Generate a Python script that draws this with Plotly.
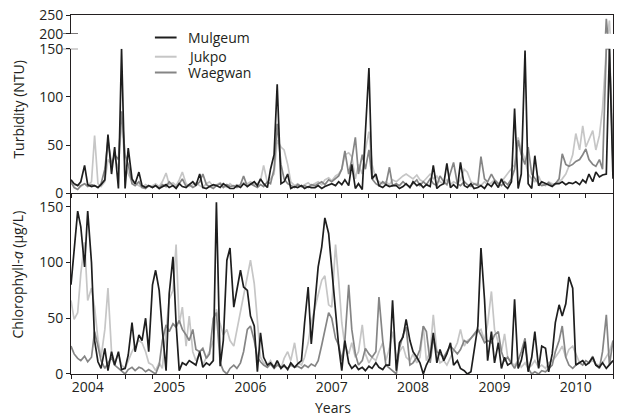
import numpy as np
import pandas as pd
import plotly.graph_objects as go

# ---------------- data (semi-monthly samples, Nov 2003 - Jul 2010) ----------------
dates = pd.date_range("2003-11-01", periods=161, freq="SMS").strftime("%Y-%m-%d").tolist()
years = ["2004", "2005", "2006", "2007", "2008", "2009", "2010"]
series_names = ["Mulgeum", "Jukpo", "Waegwan"]

turb_mulgeum = [
    14, 10, 8, 12, 29, 9, 7, 8, 6, 9, 14, 61, 20, 48, 5, 150, 5, 47, 15, 10, 22, 8, 6, 8,
    6, 8, 5, 7, 9, 6, 8, 5, 10, 7, 6, 9, 12, 8, 20, 6, 5, 7, 9, 8, 6, 10, 7, 5,
    5, 8, 6, 10, 7, 9, 12, 8, 15, 10, 6, 25, 40, 113, 10, 12, 20, 5, 7, 6, 8, 5, 7, 6,
    6, 8, 5, 7, 9, 10, 8, 12, 9, 14, 8, 30, 5, 10, 4, 58, 130, 15, 20, 8, 6, 9, 7, 8,
    8, 5, 7, 10, 6, 12, 8, 10, 6, 9, 7, 29, 5, 8, 10, 31, 6, 9, 5, 32, 8, 6, 10, 5,
    6, 8, 5, 10, 7, 12, 6, 15, 8, 5, 12, 88, 5, 20, 148, 10, 5, 39, 8, 12, 10, 9, 7, 10,
    10, 12, 9, 11, 10, 12, 9, 14, 11, 20, 12, 22, 17, 19, 20, 180, 15,
]
turb_jukpo = [
    10, 8, 9, 7, 10, 8, 12, 60, 10, 7, 12, 35, 30, 38, 25, 75, 30, 20, 12, 10, 8, 6, 9, 7,
    8, 10, 7, 12, 21, 9, 11, 8, 14, 22, 10, 7, 9, 11, 8, 6, 10, 12, 7, 9, 11, 8, 6, 10,
    7, 9, 8, 11, 10, 12, 9, 10, 13, 29, 11, 15, 20, 55, 48, 45, 30, 12, 8, 10, 7, 9, 11, 8,
    10, 12, 9, 14, 16, 13, 18, 20, 25, 40, 42, 38, 15, 30, 20, 45, 64, 30, 15, 12, 10, 12, 9, 14,
    12, 15, 18, 20, 17, 15, 19, 14, 12, 16, 20, 15, 18, 12, 10, 14, 9, 12, 10, 14, 25, 22, 12, 10,
    10, 8, 12, 9, 11, 14, 10, 12, 16, 20, 25, 30, 58, 45, 35, 20, 15, 12, 18, 10, 8, 12, 10, 9,
    12, 15, 20, 28, 40, 62, 45, 70, 48, 55, 65, 45, 60, 88, 170, 235, 55,
]
turb_waegwan = [
    12, 6, 4, 8, 10, 7, 9, 8, 6, 10, 25, 55, 30, 40, 35, 85, 40, 30, 10, 8, 12, 6, 5, 8,
    6, 8, 5, 9, 7, 12, 8, 6, 10, 15, 7, 9, 6, 8, 12, 20, 9, 7, 5, 8, 10, 6, 9, 7,
    8, 6, 9, 18, 7, 10, 8, 6, 9, 7, 12, 10, 25, 72, 30, 15, 10, 8, 6, 9, 7, 8, 6, 9,
    8, 10, 12, 9, 14, 12, 15, 18, 25, 44, 20, 35, 58, 20, 40, 25, 45, 15, 10, 8, 12, 9, 27, 8,
    10, 8, 12, 9, 7, 10, 14, 8, 12, 9, 15, 10, 8, 18, 12, 9, 20, 32, 10, 8, 12, 9, 7, 10,
    8, 38, 15, 12, 20, 14, 10, 8, 12, 9, 15, 25, 55, 40, 30, 48, 20, 15, 10, 8, 9, 11, 8, 10,
    15, 41, 30, 28, 30, 33, 35, 40, 46, 35, 30, 28, 35, 25, 240, 160, 30,
]

chl_mulgeum = [
    80, 108, 146, 132, 96, 146, 100, 30, 11, 5, 23, 3, 20, 8, 20, 4, 5, 17, 46, 20, 35, 30, 50, 20,
    80, 93, 75, 40, 3, 72, 105, 45, 3, 10, 8, 12, 10, 8, 20, 6, 10, 8, 12, 154, 7, 30, 102, 113,
    60, 75, 93, 78, 75, 52, 43, 2, 37, 15, 8, 10, 6, 12, 5, 8, 4, 10, 6, 9, 12, 46, 78, 27,
    68, 96, 114, 140, 126, 93, 60, 25, 3, 30, 10, 5, 8, 4, 6, 3, 7, 5, 10, 6, 4, 8, 8, 66,
    3, 28, 33, 49, 30, 20, 15, 10, 0, 8, 15, 37, 10, 22, 12, 18, 28, 8, 12, 5, 3, 0, 2, 20,
    43, 113, 67, 12, 38, 10, 28, 5, 15, 8, 10, 67, 5, 12, 29, 2, 15, 38, 5, 25, 23, 2, 18, 46,
    62, 52, 63, 87, 77, 8, 10, 12, 8, 10, 15, 8, 6, 10, 5, 8, 12,
]
chl_jukpo = [
    66, 49, 55, 90, 118, 66, 77, 60, 31, 15, 40, 77, 20, 10, 18, 8, 5, 12, 20, 25, 30, 28, 20, 10,
    8, 3, 10, 5, 40, 67, 75, 116, 45, 60, 25, 52, 20, 12, 18, 8, 15, 20, 30, 58, 45, 35, 40, 30,
    25, 40, 55, 70, 87, 102, 81, 46, 15, 10, 8, 12, 6, 10, 5, 14, 20, 12, 28, 10, 8, 15, 28, 46,
    60, 70, 84, 88, 62, 60, 116, 84, 46, 25, 18, 28, 15, 20, 44, 18, 10, 15, 12, 20, 28, 12, 23, 38,
    15, 20, 25, 15, 12, 18, 10, 15, 43, 12, 20, 53, 20, 10, 12, 8, 15, 20, 28, 40, 25, 30, 32, 35,
    38, 40, 30, 45, 74, 40, 28, 20, 36, 15, 10, 8, 12, 6, 10, 5, 8, 12, 6, 8, 5, 10, 12, 15,
    20, 25, 15, 22, 25, 18, 10, 12, 8, 10, 12, 9, 8, 10, 15, 20, 30,
]
chl_waegwan = [
    25, 18, 14, 12, 16, 11, 15, 38, 25, 12, 5, 10, 15, 8, 5, 3, 0, 4, 6, 3, 6, 5, 2, 4,
    2, 0, 8, 30, 44, 38, 45, 42, 48, 40, 35, 30, 40, 22, 20, 23, 14, 18, 50, 55, 10, 3, 0, 5,
    8, 5, 10, 20, 40, 43, 30, 15, 11, 8, 6, 9, 5, 8, 6, 7, 5, 8, 6, 7, 5, 8, 6, 9,
    7, 12, 26, 40, 55, 50, 32, 26, 12, 30, 80, 40, 18, 8, 12, 23, 18, 15, 20, 69, 30, 8, 5, 3,
    0, 23, 35, 42, 8, 10, 15, 22, 43, 38, 10, 32, 20, 18, 15, 20, 25, 22, 18, 22, 30, 28, 32, 35,
    40, 35, 28, 30, 28, 35, 38, 20, 12, 15, 10, 5, 12, 20, 32, 5, 0, 2, 0, 3, 2, 5, 8, 20,
    30, 43, 15, 8, 5, 8, 10, 8, 12, 10, 16, 8, 5, 20, 53, 8, 30,
]

turb = {"Mulgeum": turb_mulgeum, "Jukpo": turb_jukpo, "Waegwan": turb_waegwan}
chl = {"Mulgeum": chl_mulgeum, "Jukpo": chl_jukpo, "Waegwan": chl_waegwan}

# ---------------- styling ----------------
colors = {"Mulgeum": "#1e1e1e", "Jukpo": "#c6c6c6", "Waegwan": "#858585"}
AX = "#231f20"
FONT = "Open Sans"

fig = go.Figure()
for name in ["Jukpo", "Waegwan", "Mulgeum"]:
    t = np.array(turb[name], dtype=float)
    lw = 1.7
    fig.add_trace(go.Scatter(x=dates, y=np.minimum(t, 150), xaxis="x2", yaxis="y2", mode="lines",
                             line=dict(color=colors[name], width=lw), showlegend=False, hoverinfo="skip"))
    fig.add_trace(go.Scatter(x=dates, y=t, xaxis="x3", yaxis="y3", mode="lines",
                             line=dict(color=colors[name], width=lw), showlegend=False, hoverinfo="skip"))
    fig.add_trace(go.Scatter(x=dates, y=chl[name], xaxis="x", yaxis="y", mode="lines",
                             line=dict(color=colors[name], width=lw), showlegend=False, hoverinfo="skip"))

xr = ["2003-11-01", "2010-07-01"]
minor_ticks = dict(ticks="outside", ticklen=4, tickwidth=1, tickcolor=AX, tickmode="linear",
                   dtick="M4", tick0="2003-11-01", showgrid=False)
xcommon = dict(type="date", range=xr, showline=True, linecolor=AX, linewidth=1,
               showgrid=False, zeroline=False)
ycommon = dict(showline=True, linecolor=AX, linewidth=1, mirror=True, showgrid=False,
               zeroline=False, ticks="outside", ticklen=4, tickwidth=1, tickcolor=AX,
               tickfont=dict(family=FONT, size=14, color=AX))

fig.update_layout(
    width=617, height=419,
    margin=dict(l=71, r=4, t=15, b=45),
    paper_bgcolor="white", plot_bgcolor="white",
    font=dict(family=FONT, size=14, color=AX),
    showlegend=False,
    xaxis=dict(**xcommon, anchor="y", tickmode="array", tickvals=[f"{y}-01-15" for y in years],
               ticktext=years, ticks="", minor=minor_ticks,
               tickfont=dict(family=FONT, size=14, color=AX)),
    xaxis2=dict(**xcommon, anchor="y2", showticklabels=False, ticks="", tickmode="array",
                tickvals=[f"{y}-01-15" for y in years], minor=minor_ticks),
    xaxis3=dict(**xcommon, anchor="y3", side="top", showticklabels=False, ticks=""),
    yaxis=dict(**ycommon, domain=[0, 0.5033], range=[0, 162], tickvals=[0, 50, 100, 150]),
    yaxis2=dict(**ycommon, domain=[0.5033, 0.9061], range=[0, 150], tickvals=[0, 50, 100, 150]),
    yaxis3=dict(**ycommon, domain=[0.9479, 1], range=[200, 250], tickvals=[200, 250]),
)

# axis-break marks
for yref, yv in [("y2", 150), ("y3", 200)]:
    fig.add_shape(type="line", xref="paper", yref=yref, x0=-0.0147, x1=0.0129, y0=yv, y1=yv,
                  line=dict(color=AX, width=1))

# legend (drawn manually)
leg_y = [0.9373, 0.8838, 0.8398]
for name, ly in zip(series_names, leg_y):
    fig.add_shape(type="line", xref="paper", yref="paper", x0=0.1548, x1=0.1948, y0=ly, y1=ly,
                  line=dict(color=colors[name], width=2))
    fig.add_annotation(text=name, xref="paper", yref="paper", x=0.2119, y=ly, xanchor="left",
                       yanchor="middle", showarrow=False, font=dict(family=FONT, size=14, color=AX))

# axis titles
fig.add_annotation(text="Turbidity (NTU)", xref="paper", yref="paper", x=-0.0986, y=0.738,
                   textangle=-90, showarrow=False, xanchor="center", yanchor="middle",
                   font=dict(family=FONT, size=14, color=AX))
fig.add_annotation(text="Chlorophyll-<i>a</i> (µg/L)", xref="paper", yref="paper", x=-0.0986, y=0.276,
                   textangle=-90, showarrow=False, xanchor="center", yanchor="middle",
                   font=dict(family=FONT, size=14, color=AX))
fig.add_annotation(text="Years", xref="paper", yref="paper", x=0.483, y=-0.0947,
                   showarrow=False, xanchor="center", yanchor="middle",
                   font=dict(family=FONT, size=14, color=AX))

fig.write_html("out.html", config={"displayModeBar": False},
               post_script="document.body.style.margin='0px';document.body.style.padding='0px';")
